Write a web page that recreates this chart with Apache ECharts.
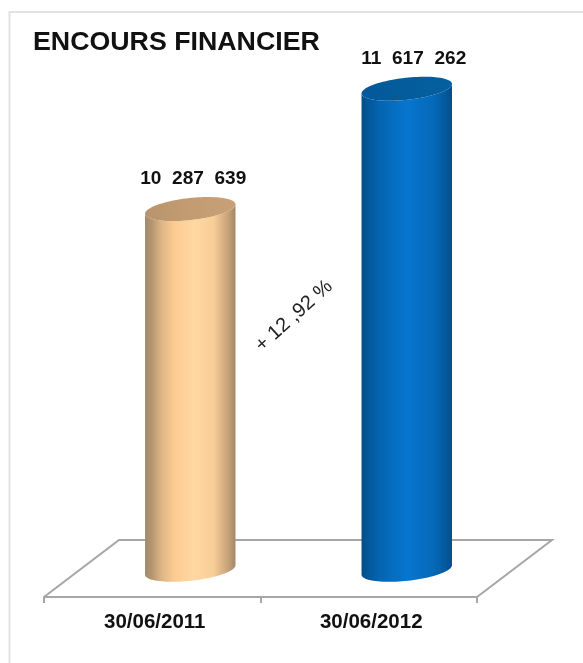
<!DOCTYPE html>
<html><head><meta charset="utf-8">
<style>html,body{margin:0;padding:0;background:#fff}#c{width:583px;height:663px}</style>
<script src="https://cdn.jsdelivr.net/npm/echarts@6/dist/echarts.min.js"></script>
</head><body><div id="c"></div>
<script>
const categories = ['30/06/2011', '30/06/2012'];
const encours = [10287639, 11617262];
const valueLabels = ['10  287  639', '11  617  262'];
const titleText = 'ENCOURS FINANCIER';
const growthText = '+ 12 ,92 %';

const FONT = '"Liberation Sans", Arial, sans-serif';
const BASE_VALUE = 6300000;
const sideStops = [
  [[0,'#a08a6e'],[0.07,'#b3946f'],[0.18,'#dcb585'],[0.32,'#fccb92'],[0.55,'#ffd8a1'],[0.76,'#f8cd98'],[0.92,'#c5a27a'],[1,'#a38866']],
  [[0,'#024d86'],[0.08,'#03589c'],[0.2,'#0465b0'],[0.5,'#0775cf'],[0.8,'#0569b8'],[0.93,'#03599c'],[1,'#034f88']]
];
const topColors = [
  [[0,'#b8946c'],[0.5,'#c49c72'],[1,'#c8a078']],
  [[0,'#03599b'],[0.5,'#045c9c'],[1,'#055f9f']]
];
const A = 45.5, B = 11, TILT = -6.3 * Math.PI / 180, SHIFT_X = 38;
const labelShift = [3, 7];

function ell(cx, cy, t) {
  const x = A * Math.cos(t), y = B * Math.sin(t);
  return [cx + x * Math.cos(TILT) - y * Math.sin(TILT), cy + x * Math.sin(TILT) + y * Math.cos(TILT)];
}
function linear(stops) {
  return {type:'linear', x:0, y:0, x2:1, y2:0, colorStops: stops.map(s => ({offset:s[0], color:s[1]}))};
}
function cylinder(params, api) {
  const i = api.value(0);
  const top = api.coord([i, api.value(1)]);
  const base = api.coord([i, BASE_VALUE]);
  const cx = top[0] + SHIFT_X;
  const side = [], cap = [];
  const n = 48;
  for (let k = 0; k <= n; k++) side.push(ell(cx, base[1], Math.PI - Math.PI * k / n));
  for (let k = 0; k <= n; k++) side.push(ell(cx, top[1], Math.PI * k / n));
  for (let k = 0; k < n * 2; k++) cap.push(ell(cx, top[1], Math.PI * k / n));
  return {type:'group', children:[
    {type:'polygon', shape:{points:side}, style:{fill:linear(sideStops[i])}},
    {type:'polygon', shape:{points:cap}, style:{fill:linear(topColors[i])}},
    {type:'text', x:cx + labelShift[i], y:top[1] - 30, scaleX:1.06,
      style:{text:valueLabels[i], x:0, y:0, align:'center', verticalAlign:'middle',
      font:'bold 18px ' + FONT, fill:'#111'}}
  ]};
}
function floor(params, api) {
  const g = params.coordSys, DX = 75, DY = 57;
  const l = g.x, r = g.x + g.width, b = g.y + g.height;
  return {type:'polyline', silent:true,
    shape:{points:[[l,b],[l+DX,b-DY],[r+DX,b-DY],[r,b]]},
    style:{fill:null, stroke:'#a6a6a6', lineWidth:2}};
}
const chart = echarts.init(document.getElementById('c'), null, {renderer:'canvas'});
chart.setOption({
  animation:false,
  backgroundColor:'#ffffff',
  grid:{left:44, right:106, top:36, bottom:66, containLabel:false},
  xAxis:{type:'category', data:categories, boundaryGap:true,
    axisLine:{show:true, lineStyle:{color:'#a6a6a6', width:2}},
    axisTick:{show:true, length:6, lineStyle:{color:'#a6a6a6', width:2}},
    axisLabel:{color:'#111', fontFamily:FONT, fontWeight:'bold', fontSize:20.5, margin:15, padding:[0,0,0,5]},
    splitLine:{show:false}},
  yAxis:{type:'value', min:6000000, max:12200000, show:false, splitLine:{show:false}},
  series:[
    {type:'custom', name:'floor', data:[0], renderItem:floor, z:1, silent:true},
    {type:'custom', name:'Encours', z:2, silent:true, renderItem:cylinder,
      encode:{x:0,y:1}, data:encours.map((v,i)=>[i,v])}
  ],
  graphic:[
    {type:'polyline', silent:true, shape:{points:[[9.5,663],[9.5,12],[583,12]]}, style:{fill:null, stroke:'#e2e2e2', lineWidth:2}},
    {type:'text', silent:true, x:33, y:43, scaleX:1.07,
      style:{text:titleText, x:0, y:0, verticalAlign:'middle', font:'bold 25px ' + FONT, fill:'#111'}},
    {type:'text', silent:true, x:294, y:316, rotation:42*Math.PI/180,
      style:{text:growthText, x:0, y:0, align:'center', verticalAlign:'middle', font:'20px ' + FONT, fill:'#222'}}
  ]
});
</script></body></html>
